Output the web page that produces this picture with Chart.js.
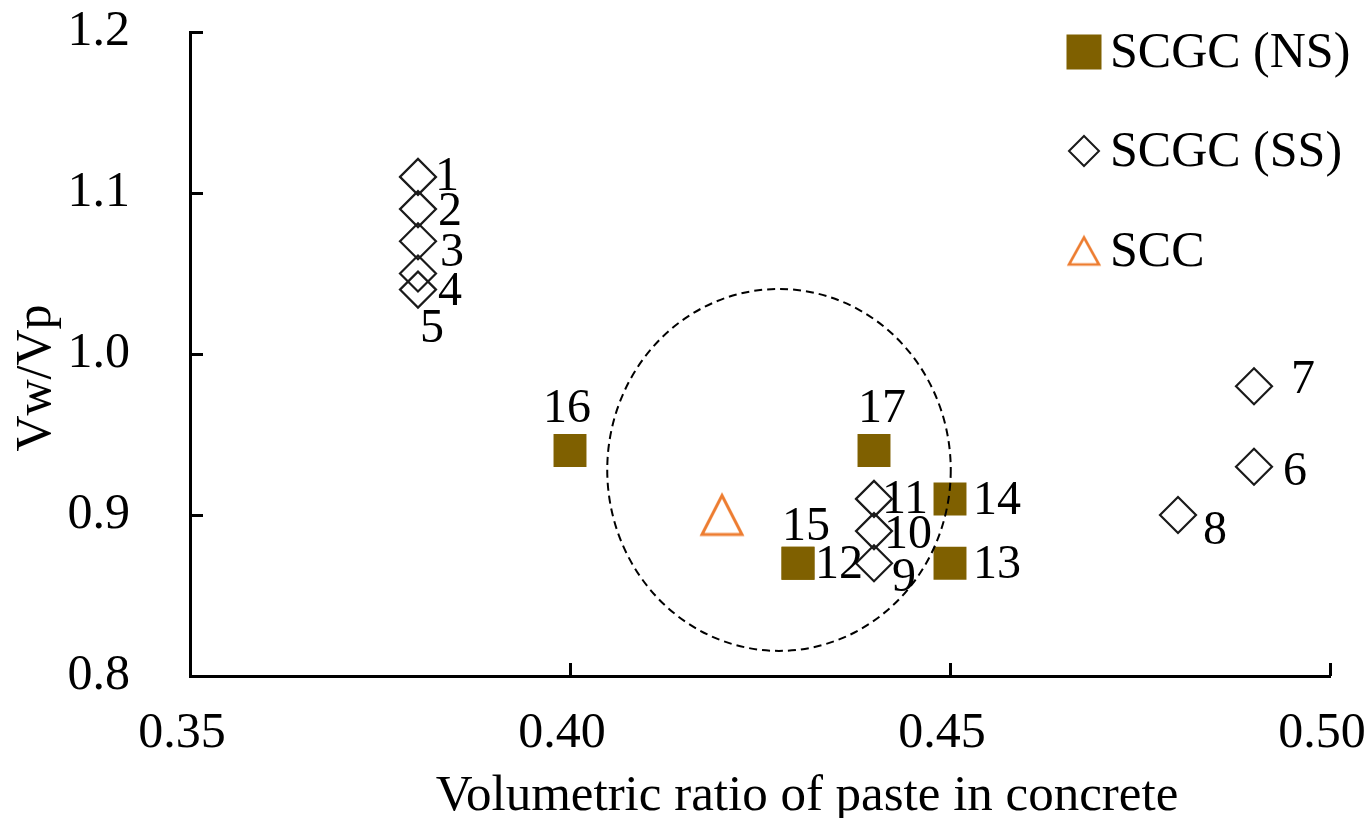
<!DOCTYPE html>
<html><head><meta charset="utf-8">
<script src="https://cdn.jsdelivr.net/npm/chart.js@4.4.1/dist/chart.umd.min.js"></script>
<style>html,body{margin:0;padding:0;background:#fff}canvas{display:block}</style>
</head><body>
<canvas id="c" width="1368" height="818"></canvas>
<script>
// ---- data ----
const xTickValues = [0.35, 0.40, 0.45, 0.50];
const yTickValues = [0.8, 0.9, 1.0, 1.1, 1.2];
const nsLabels = ['12', '13', '14', '15', '16', '17'];
const nsX = [0.43, 0.45, 0.45, 0.43, 0.40, 0.44];
const nsY = [0.87, 0.87, 0.91, 0.87, 0.94, 0.94];
const ssLabels = ['1', '2', '3', '4', '5', '6', '7', '8', '9', '10', '11'];
const ssX = [0.38, 0.38, 0.38, 0.38, 0.38, 0.49, 0.49, 0.48, 0.44, 0.44, 0.44];
const ssY = [1.11, 1.09, 1.07, 1.05, 1.04, 0.93, 0.98, 0.90, 0.87, 0.89, 0.91];
const sccX = [0.42];
const sccY = [0.90];
const seriesNames = ['SCGC (NS)', 'SCGC (SS)', 'SCC'];
const ellipse = { cx: 0.4275, cy: 0.928, rx: 0.0226, ry: 0.1124 };
const xTitle = 'Volumetric ratio of paste in concrete';
const yTitle = 'Vw/Vp';

// ---- label placement (pixel offsets from the marker) ----
const nsLabelOffsets = [[41, 0], [47, 0], [47, 0], [8, -38], [-3, -43], [8, -43]];
const ssLabelOffsets = [[29, -2], [32, 1], [34, 10], [32, 17], [14, 38], [41, 4], [49, -8], [37, 14], [30, 13], [34, 2], [31, -1]];

const FONT = "'Liberation Serif', 'Times New Roman', serif";
const NS_COLOR = '#7F6000';
const SS_COLOR = '#1a1a1a';
const SCC_COLOR = '#ED7D31';

function triangleImage(w, h, lw, color) {
  const pad = 5;
  const c = document.createElement('canvas');
  c.width = Math.round(w + pad * 2);
  c.height = Math.round(h + pad * 2);
  const g = c.getContext('2d');
  g.strokeStyle = color;
  g.lineWidth = lw;
  g.beginPath();
  g.moveTo(c.width / 2, pad);
  g.lineTo(c.width / 2 + w / 2, pad + h);
  g.lineTo(c.width / 2 - w / 2, pad + h);
  g.closePath();
  g.stroke();
  return c;
}
const triPlot = triangleImage(40, 39, 3, SCC_COLOR);
const triLegend = triangleImage(30, 27, 2.6, SCC_COLOR);

const toPts = (xs, ys) => xs.map((x, i) => ({ x: x, y: ys[i] }));

const overlay = {
  id: 'overlay',
  afterDatasetsDraw(chart) {
    const ctx = chart.ctx;
    const xs = chart.scales.x, ys = chart.scales.y;
    const area = chart.chartArea;
    ctx.save();
    // dashed ellipse
    ctx.beginPath();
    ctx.setLineDash([8, 5]);
    ctx.lineWidth = 2;
    ctx.strokeStyle = '#000';
    const cx = xs.getPixelForValue(ellipse.cx), cy = ys.getPixelForValue(ellipse.cy);
    const rx = xs.getPixelForValue(ellipse.cx + ellipse.rx) - cx;
    const ry = cy - ys.getPixelForValue(ellipse.cy + ellipse.ry);
    ctx.ellipse(cx, cy, rx, ry, 0, 0, Math.PI * 2);
    ctx.stroke();
    ctx.setLineDash([]);

    // point labels
    ctx.fillStyle = '#000';
    ctx.font = '48px ' + FONT;
    ctx.textAlign = 'center';
    ctx.textBaseline = 'middle';
    const drawLabels = (dsIndex, labels, offs) => {
      const meta = chart.getDatasetMeta(dsIndex);
      meta.data.forEach((el, i) => {
        ctx.fillText(labels[i], el.x + offs[i][0], el.y + offs[i][1] + 2);
      });
    };
    drawLabels(0, nsLabels, nsLabelOffsets);
    drawLabels(1, ssLabels, ssLabelOffsets);

    // inward tick marks
    ctx.strokeStyle = '#000';
    ctx.lineWidth = 3;
    ctx.beginPath();
    yTickValues.forEach(v => {
      if (v === ys.min) return;
      const p = Math.round(ys.getPixelForValue(v)) + 0.5;
      ctx.moveTo(area.left, p);
      ctx.lineTo(area.left + 13, p);
    });
    xTickValues.forEach(v => {
      if (v === xs.min) return;
      const p = Math.round(xs.getPixelForValue(v)) + 0.5;
      ctx.moveTo(p, area.bottom);
      ctx.lineTo(p, area.bottom - 13);
    });
    ctx.stroke();

    // axis titles
    ctx.fillStyle = '#000';
    ctx.font = '51px ' + FONT;
    ctx.textAlign = 'center';
    ctx.textBaseline = 'alphabetic';
    ctx.fillText(xTitle, 807, 810);
    ctx.save();
    ctx.font = '50px ' + FONT;
    ctx.translate(50, 378);
    ctx.rotate(-Math.PI / 2);
    ctx.fillText(yTitle, 0, 0);
    ctx.restore();

    // legend
    const lx = 1084;
    const rowsY = [52, 151, 251];
    ctx.fillStyle = NS_COLOR;
    ctx.fillRect(lx - 17.5, rowsY[0] - 17.5, 35, 35);
    ctx.beginPath();
    ctx.strokeStyle = SS_COLOR;
    ctx.lineWidth = 2;
    const d = 15;
    ctx.moveTo(lx - d, rowsY[1]);
    ctx.lineTo(lx, rowsY[1] - d);
    ctx.lineTo(lx + d, rowsY[1]);
    ctx.lineTo(lx, rowsY[1] + d);
    ctx.closePath();
    ctx.stroke();
    ctx.drawImage(triLegend, lx - triLegend.width / 2, rowsY[2] - triLegend.height / 2);
    ctx.fillStyle = '#000';
    ctx.font = '50px ' + FONT;
    ctx.textAlign = 'left';
    ctx.textBaseline = 'middle';
    seriesNames.forEach((n, i) => ctx.fillText(n, 1110, rowsY[i] + 2));
    ctx.restore();
  }
};

new Chart(document.getElementById('c'), {
  type: 'scatter',
  data: {
    datasets: [
      {
        label: seriesNames[0], data: toPts(nsX, nsY),
        pointStyle: 'rect', pointRadius: 23.3, pointHoverRadius: 23.3,
        backgroundColor: NS_COLOR, borderWidth: 0
      },
      {
        label: seriesNames[1], data: toPts(ssX, ssY),
        pointStyle: 'rectRot', pointRadius: 18, pointHoverRadius: 18,
        backgroundColor: 'rgba(0,0,0,0)', borderColor: SS_COLOR, borderWidth: 2.2
      },
      {
        label: seriesNames[2], data: toPts(sccX, sccY),
        pointStyle: triPlot, pointRadius: 22,
        backgroundColor: 'rgba(0,0,0,0)', borderColor: SCC_COLOR
      }
    ]
  },
  options: {
    responsive: false,
    animation: false,
    events: [],
    layout: { padding: { top: 32, right: 38, left: 0, bottom: 0 } },
    plugins: { legend: { display: false }, tooltip: { enabled: false } },
    scales: {
      x: {
        type: 'linear', min: 0.35, max: 0.5,
        afterBuildTicks: s => { s.ticks = xTickValues.map(v => ({ value: v })); },
        ticks: {
          callback: v => Number(v).toFixed(2),
          font: { size: 50, family: FONT }, color: '#000',
          padding: 28, labelOffset: -8, autoSkip: false, maxRotation: 0
        },
        grid: { display: false, drawTicks: false },
        border: { display: true, color: '#000', width: 3 },
        afterFit: s => { s.height = 142; s.paddingLeft = 0; s.paddingRight = 0; }
      },
      y: {
        type: 'linear', min: 0.8, max: 1.2,
        afterBuildTicks: s => { s.ticks = yTickValues.map(v => ({ value: v })); },
        ticks: {
          callback: v => Number(v).toFixed(1),
          font: { size: 50, family: FONT }, color: '#000',
          padding: 60, autoSkip: false
        },
        grid: { display: false, drawTicks: false },
        border: { display: true, color: '#000', width: 3 },
        afterFit: s => { s.width = 190; s.paddingTop = 0; s.paddingBottom = 0; }
      }
    }
  },
  plugins: [overlay]
});
</script>
</body></html>
